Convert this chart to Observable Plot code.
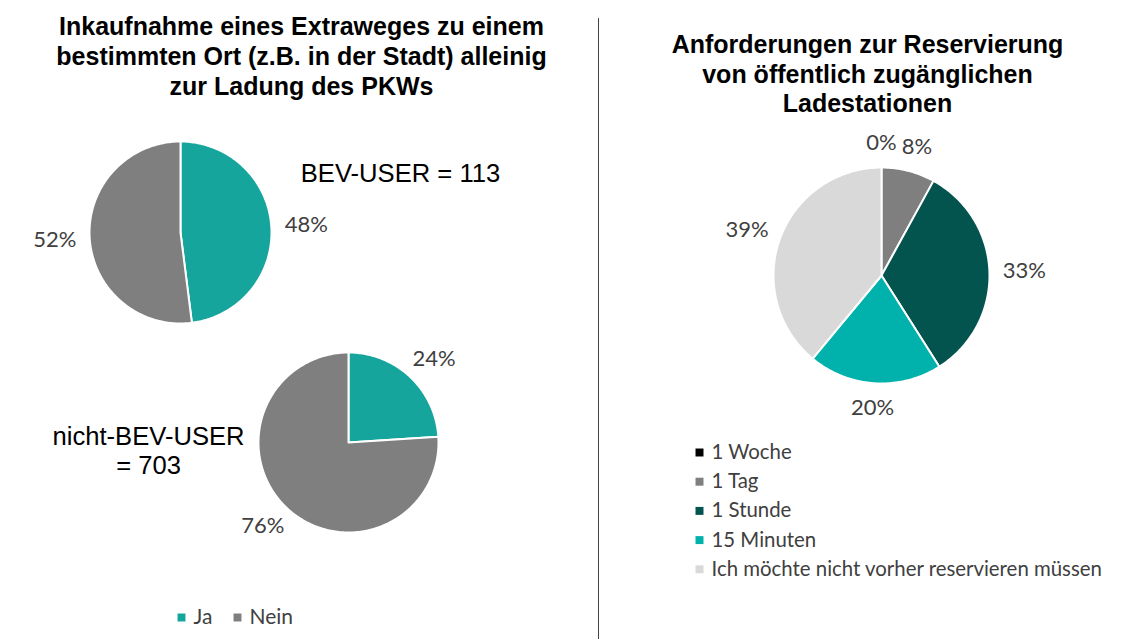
<!DOCTYPE html>
<html>
<head>
<meta charset="utf-8">
<script src="https://cdn.jsdelivr.net/npm/d3@7"></script>
<script src="https://cdn.jsdelivr.net/npm/@observablehq/plot@0.6"></script>
<style>
  html, body { margin: 0; padding: 0; background: #fff; }
</style>
</head>
<body>
<div id="chart"></div>
<script>
// ---------- data ----------
const leftCategories = ["Ja", "Nein"];
const bevValues = [48, 52];
const nonBevValues = [24, 76];
const bevLabel = "BEV-USER = 113";
const nonBevLabel = "nicht-BEV-USER\n= 703";
const leftTitle = "Inkaufnahme eines Extraweges zu einem\nbestimmten Ort (z.B. in der Stadt) alleinig\nzur Ladung des PKWs";

const rightCategories = ["1 Woche", "1 Tag", "1 Stunde", "15 Minuten", "Ich möchte nicht vorher reservieren müssen"];
const rightValues = [0, 8, 33, 20, 39];
const rightTitle = "Anforderungen zur Reservierung\nvon öffentlich zugänglichen\nLadestationen";

const colorDomain = ["Ja", "Nein", "1 Woche", "1 Tag", "1 Stunde", "15 Minuten", "Ich möchte nicht vorher reservieren müssen"];
const colorRange = ["#16A59C", "#7F7F7F", "#000000", "#7F7F7F", "#03534E", "#00B2AB", "#D9D9D9"];

// ---------- layout ----------
const W = 1131, H = 639;
const pies = [
  {id: "bev", cats: leftCategories, vals: bevValues, cx: 180, cy: 232, r: 91},
  {id: "nonbev", cats: leftCategories, vals: nonBevValues, cx: 348, cy: 442, r: 90},
  {id: "right", cats: rightCategories, vals: rightValues, cx: 881, cy: 275, r: 108}
];
const gap = 14, halfW = 21, halfH = 11;

const slices = [];
const pctLabels = [];
for (const p of pies) {
  const arcs = d3.pie().sort(null).value(d => d.value)(p.cats.map((c, i) => ({category: c, value: p.vals[i]})));
  for (const a of arcs) {
    const span = a.endAngle - a.startAngle;
    if (span > 0) {
      const n = Math.max(2, Math.ceil(span / (Math.PI / 180)));
      const ring = [[p.cx, p.cy]];
      for (let k = 0; k <= n; k++) {
        const t = a.startAngle + span * k / n;
        ring.push([p.cx + p.r * Math.sin(t), p.cy - p.r * Math.cos(t)]);
      }
      ring.push([p.cx, p.cy]);
      slices.push({type: "Feature", properties: {category: a.data.category}, geometry: {type: "Polygon", coordinates: [ring]}});
    }
    const mid = (a.startAngle + a.endAngle) / 2;
    pctLabels.push({
      x: p.cx + (p.r + gap + halfW) * Math.sin(mid),
      y: p.cy - (p.r + gap + halfH) * Math.cos(mid),
      text: a.data.value + "%"
    });
  }
}

const rightLegend = rightCategories.map((c, i) => ({category: c, x: 699, y: 452 + i * 29.2}));
const bottomLegend = [
  {category: "Ja", x: 181, y: 617},
  {category: "Nein", x: 237, y: 617}
];

const divider = {type: "Feature", properties: {}, geometry: {type: "LineString", coordinates: [[598, 18], [598, H]]}};

const arial = "'Liberation Sans', Arial, sans-serif";
const calib = "Lato, 'Open Sans', sans-serif";

const chart = Plot.plot({
  width: W,
  height: H,
  margin: 0,
  projection: {type: "identity"},
  color: {domain: colorDomain, range: colorRange},
  style: {background: "white"},
  marks: [
    Plot.geo(slices, {fill: d => d.properties.category, stroke: "white", strokeWidth: 2}),
    Plot.geo([divider], {stroke: "#444", strokeWidth: 1, fill: "none"}),
    Plot.text(pctLabels, {x: "x", y: "y", text: "text", fontSize: 22, fontFamily: calib, fill: "#404040"}),
    Plot.text([leftTitle], {x: () => 301, y: () => 55, text: d => d, fontSize: 25, fontWeight: "bold", fontFamily: arial, fill: "black", lineHeight: 1.2}),
    Plot.text([rightTitle], {x: () => 867, y: () => 73, text: d => d, fontSize: 25, fontWeight: "bold", fontFamily: arial, fill: "black", lineHeight: 1.18}),
    Plot.text([bevLabel], {x: () => 400, y: () => 173, text: d => d, fontSize: 25.6, fontFamily: arial, fill: "black"}),
    Plot.text([nonBevLabel], {x: () => 148, y: () => 450, text: d => d, fontSize: 25.6, fontFamily: arial, fill: "black", lineHeight: 1.13}),
    Plot.dot(rightLegend, {x: "x", y: "y", symbol: "square", r: 4.5, fill: "category", stroke: null}),
    Plot.text(rightLegend, {x: d => d.x + 12, y: "y", text: "category", textAnchor: "start", fontSize: 20.4, fontFamily: calib, fill: "#404040"}),
    Plot.dot(bottomLegend, {x: "x", y: "y", symbol: "square", r: 4.5, fill: "category", stroke: null}),
    Plot.text(bottomLegend, {x: d => d.x + 12, y: "y", text: "category", textAnchor: "start", fontSize: 21, fontFamily: calib, fill: "#404040"})
  ]
});
document.getElementById("chart").appendChild(chart);
</script>
</body>
</html>
